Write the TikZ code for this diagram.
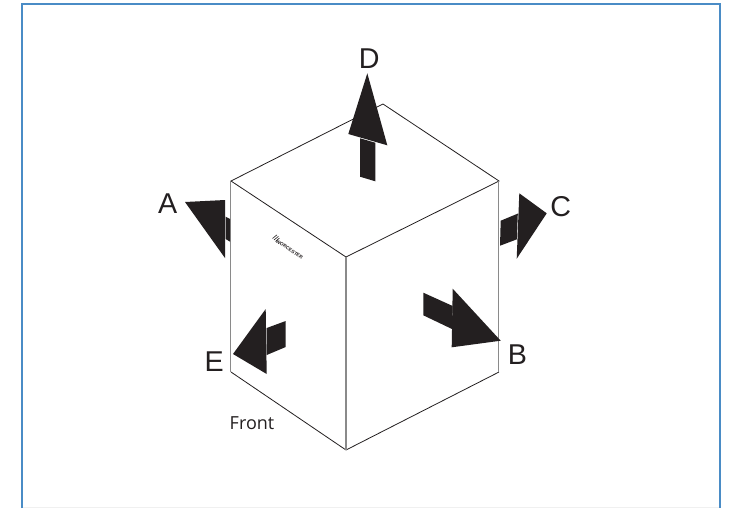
\documentclass[tikz,border=0pt]{standalone}
\usepackage{fontspec}
\setmainfont{Liberation Sans}
\newfontfamily\frontfont{Open Sans}
\definecolor{ink}{HTML}{231F20}
\definecolor{frameblue}{HTML}{4A8CC6}
\definecolor{edgegrey}{HTML}{8A8A8A}
\tikzset{
  cubeedge/.style={draw=ink,line width=0.6pt,line join=miter},
  cubegrey/.style={draw=edgegrey,line width=0.8pt},
  arrowpart/.style={fill=ink,draw=none},
  letterlabel/.style={font=\fontsize{21.5}{24}\selectfont,text=ink,inner sep=0pt},
  frontlabel/.style={font=\frontfont\fontsize{13.5}{16}\selectfont,text=ink,inner sep=0pt},
  framerule/.style={draw=frameblue,line width=1.5pt,line cap=butt,line join=miter}
}
\begin{document}
\begin{tikzpicture}[x=0.75pt,y=-0.75pt]
\useasboundingbox (0,0) rectangle (730,508);
\fill[white] (0,0) rectangle (730,508);
% frame
\draw[framerule] (22,508) -- (22,3.5) -- (720,3.5) -- (720,508);
\draw[draw=black!6,line width=0.6pt] (23,507.3) -- (719,507.3);
% cube
\draw[cubeedge] (231,181) -- (383,104) -- (499,181) -- (346,257) -- cycle;
\draw[cubeedge] (231,372) -- (346,450) -- (499,372);
\draw[cubegrey] (230.5,181) -- (230.5,372);
\draw[cubegrey] (346,257) -- (346,450);
\draw[cubegrey] (498.7,181) -- (498.7,372);
% arrow A
\fill[arrowpart] (185,202) -- (225,200) -- (225,258) -- cycle;
\fill[arrowpart] (225.7,216.7) -- (230,219) -- (230,241.7) -- (225.7,239) -- cycle;
% arrow E
\fill[arrowpart] (233,354) -- (265.7,309) -- (266.7,374) -- cycle;
\fill[arrowpart] (266.7,328) -- (285.7,321) -- (285.7,347) -- (266.7,355) -- cycle;
% arrow D
\fill[arrowpart] (367.3,73.3) -- (348.3,134) -- (387.3,145.3) -- cycle;
\fill[arrowpart] (360,138.3) -- (375.3,142.7) -- (375.3,181.3) -- (360,176.7) -- cycle;
% arrow C
\fill[arrowpart] (546.7,213.3) -- (519.3,193.3) -- (516.7,258.7) -- cycle;
\fill[arrowpart] (500.7,220.7) -- (517.8,213.6) -- (516.9,239.3) -- (500,245.7) -- cycle;
% arrow B
\fill[arrowpart] (500.7,340.7) -- (452.7,288.7) -- (451.7,347.3) -- cycle;
\fill[arrowpart] (423.3,292.7) -- (452.7,306) -- (452,329) -- (423.3,315.3) -- cycle;
% labels
\node[letterlabel] (labelA) at (167.7,203.5) {A};
\node[letterlabel] (labelB) at (517.3,355) {B};
\node[letterlabel] (labelC) at (560.7,206.7) {C};
\node[letterlabel] (labelD) at (369.3,59) {D};
\node[letterlabel] (labelE) at (214.3,362) {E};
\node[frontlabel] (labelFront) at (252,423) {Front};
% maker's mark
\node[inner sep=0pt,rotate=-34,text=ink,font=\bfseries\fontsize{3.6}{4}\selectfont] (logo) at (289.5,249.5) {WORCESTER};
\draw[ink,line width=0.45pt] (272.5,238.5) -- (277,234.8) (274,240) -- (278.5,236.3) (275.5,241.5) -- (279.5,238);
\end{tikzpicture}
\end{document}
